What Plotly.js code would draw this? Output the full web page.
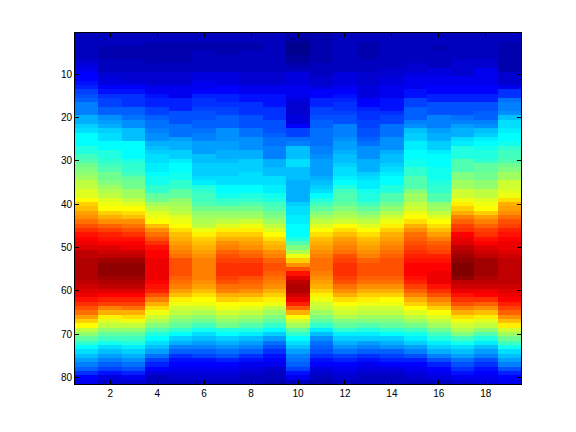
<!DOCTYPE html>
<html><head><meta charset="utf-8">
<script src="https://cdn.plot.ly/plotly-3.0.1.min.js"></script>
<style>html,body{margin:0;padding:0;background:#fff}#c{width:576px;height:432px}</style>
</head><body><div id="c"></div>
<script>
// Jet colormap level (0-63) per row (1-81) for each column (1-19).
const col01=[3,3,3,3,3,3,4,5,6,7, 7,8,9,11,12,13,15,15,15,18, 18,20,21,23,23,23,25,25,27,28, 30,31,32,33,35,35,37,37,39,42, 43,45,46,48,50,52,54,55,56,57, 59,59,60,60,60,60,60,59,58,57, 56,54,52,50,48,45,42,39,35,32, 29,26,23,21,19,17,15,13,10,7, 6];
const col02=[3,3,3,2,2,2,3,3,3,4, 5,5,7,8,10,11,11,13,13,16, 17,18,20,21,21,23,23,25,25,26, 27,28,30,30,31,33,34,35,37,38, 39,42,44,46,49,51,53,54,55,57, 58,59,61,62,62,62,61,60,59,57, 55,53,51,47,44,40,37,35,32,29, 27,24,21,19,17,15,13,11,8,5, 4];
const col03=[3,3,3,2,2,2,3,3,3,4, 4,5,7,8,10,10,10,13,13,14, 16,16,19,19,19,23,23,23,23,25, 26,26,27,29,30,30,33,33,35,37, 39,41,43,46,48,50,52,54,55,56, 58,59,61,62,62,62,61,60,59,57, 55,53,51,48,44,41,38,35,32,29, 27,25,22,20,18,16,14,12,9,6, 4];
const col04=[3,3,2,2,2,2,2,3,3,4, 4,4,6,6,8,9,9,11,11,13, 14,14,15,16,16,18,19,20,21,21, 22,22,23,24,24,26,26,29,30,33, 35,37,38,39,43,46,48,50,52,54, 55,55,56,56,56,56,56,55,54,53, 50,47,44,41,38,36,34,31,28,25, 23,21,19,17,14,11,9,7,5,3, 3];
const col05=[3,3,2,2,2,2,2,3,3,4, 4,4,6,6,6,9,9,9,12,12, 12,14,14,14,17,18,18,20,20,22, 23,23,24,24,26,26,29,29,32,33, 34,35,37,38,39,41,43,44,45,46, 47,48,50,50,50,50,49,48,47,45, 43,40,38,36,35,33,31,29,26,23, 20,18,15,13,10,8,7,6,5,4, 3];
const col06=[3,3,2,2,3,3,3,3,3,5, 5,6,6,7,9,10,10,11,12,12, 13,13,14,15,15,17,17,17,19,19, 20,20,20,21,22,25,26,27,27,28, 30,32,33,34,35,38,40,42,43,44, 45,46,47,47,47,47,47,46,45,43, 41,39,38,36,34,32,30,27,24,21, 19,17,15,13,11,8,7,6,5,4, 3];
const col07=[3,3,2,2,2,3,3,3,3,5, 5,5,7,7,9,9,10,11,11,13, 13,13,16,16,16,17,17,18,18,19, 20,20,20,21,21,23,23,24,26,27, 30,32,33,35,37,40,42,44,46,47, 49,50,51,52,52,52,51,50,48,47, 44,42,39,38,36,34,32,30,25,23, 20,18,16,14,12,9,7,6,5,4, 3];
const col08=[3,3,2,2,3,3,3,3,3,4, 4,4,6,6,8,8,10,10,10,12, 12,12,14,14,16,16,16,18,18,20, 20,20,21,21,21,23,23,25,26,28, 30,32,33,36,38,40,42,44,45,46, 48,49,51,52,52,52,50,49,48,46, 44,41,39,37,35,33,31,28,25,22, 19,17,15,13,10,8,6,5,4,3, 3];
const col09=[3,3,3,3,3,3,3,3,3,4, 4,4,6,6,8,8,8,10,10,10, 12,12,12,13,14,14,15,15,15,18, 18,19,19,21,21,22,22,24,25,27, 28,30,31,33,35,37,39,41,43,44, 46,47,49,50,50,49,48,47,46,44, 42,40,38,35,33,31,29,26,23,20, 17,14,12,10,8,7,6,4,3,3, 2];
const col10=[2,1,0,0,0,1,1,2,3,5, 5,5,6,6,6,5,4,4,4,5, 5,7,11,11,14,15,19,19,19,21, 21,19,19,19,18,18,18,18,18,20, 21,21,22,22,23,23,23,25,28,31, 34,38,42,46,50,54,57,59,60,60, 58,56,53,49,44,39,36,33,29,26, 23,21,19,17,15,14,13,11,8,6, 3];
const col11=[2,2,2,2,2,2,2,3,3,3, 4,4,5,7,7,9,9,11,11,12, 13,13,14,14,14,14,15,15,16,17, 17,17,17,18,19,20,21,23,25,27, 29,31,33,35,37,39,41,43,44,45, 46,47,48,48,48,47,46,45,44,42, 40,38,36,35,33,31,29,26,22,19, 16,14,13,12,10,8,7,5,4,3, 2];
const col12=[3,3,3,3,3,3,3,3,3,5, 5,5,6,7,8,9,10,10,11,12, 12,15,15,15,16,17,17,18,19,19, 20,21,21,22,23,25,27,28,28,29, 31,33,34,36,39,41,43,45,46,47, 48,50,51,52,52,52,51,50,48,46, 44,41,39,37,36,34,31,29,26,22, 20,18,16,14,11,9,7,6,5,4, 3];
const col13=[3,3,2,2,2,2,3,3,3,4, 4,4,5,5,5,7,7,9,10,10, 11,11,12,12,13,14,16,16,16,18, 18,18,20,21,22,22,24,25,25,27, 29,31,33,35,37,39,41,43,44,45, 46,47,49,50,50,50,49,48,46,44, 42,40,38,36,35,33,31,28,25,22, 20,17,15,13,10,8,6,5,4,3, 3];
const col14=[3,3,3,3,3,3,3,3,4,4, 5,5,6,6,6,8,8,8,10,11, 11,14,14,14,16,16,16,18,19,19, 20,21,22,23,23,25,25,28,28,30, 32,34,36,38,40,42,44,45,46,47, 48,49,50,50,50,50,49,48,46,44, 42,39,38,36,35,33,31,29,26,23, 20,18,16,13,11,9,7,5,4,3, 3];
const col15=[3,3,3,3,3,3,3,4,4,5, 6,6,6,8,8,11,11,13,13,13, 15,16,19,20,20,22,22,23,23,24, 24,26,26,28,28,28,31,33,33,35, 36,38,39,41,44,46,48,49,50,51, 52,53,54,55,55,55,54,53,51,49, 47,44,42,39,37,35,33,30,27,24, 22,20,17,15,12,9,7,6,5,4, 3];
const col16=[3,3,3,2,3,3,3,3,5,5, 6,6,7,7,9,9,12,12,12,15, 15,15,17,18,18,20,20,22,23,23, 23,24,24,24,25,26,26,28,28,32, 33,35,37,39,41,43,45,47,49,50, 51,53,54,55,55,56,56,56,54,52, 50,47,45,42,39,37,35,33,30,27, 25,22,20,18,15,12,9,7,6,5, 3];
const col17=[3,3,3,3,3,3,4,4,4,4, 6,6,7,7,9,9,12,12,12,14, 15,17,18,18,21,22,25,25,25,28, 28,28,31,31,33,33,36,36,38,40, 42,44,47,49,51,52,55,56,57,59, 60,61,62,63,63,63,62,59,58,56, 54,52,50,47,44,41,38,36,34,31, 27,24,21,19,17,14,12,10,8,6, 4];
const col18=[3,3,3,3,3,3,4,4,6,6, 6,6,7,7,9,9,12,12,13,13, 15,16,19,20,22,23,24,25,25,26, 29,29,30,30,32,32,35,35,37,38, 39,42,45,47,49,51,52,54,55,57, 58,59,61,61,61,61,60,59,58,56, 55,52,49,46,43,40,37,35,32,28, 25,22,19,17,15,12,10,8,7,6, 5];
const col19=[3,3,2,2,2,2,2,2,2,4, 4,4,6,10,10,14,15,15,16,19, 21,21,22,23,23,24,26,27,27,28, 30,31,33,33,36,36,37,38,41,44, 45,46,48,50,51,53,54,55,56,56, 57,58,59,59,59,59,59,59,58,57, 56,55,53,51,49,46,43,40,36,33, 30,27,24,21,19,17,15,12,9,7, 6];
const columns=[col01,col02,col03,col04,col05,col06,col07,col08,col09,col10,col11,col12,col13,col14,col15,col16,col17,col18,col19];
const xValues=[1,2,3,4,5,6,7,8,9,10,11,12,13,14,15,16,17,18,19];
const yValues=[];
for(let r=1;r<=81;r++)yValues.push(r);
const xTicks=[2,4,6,8,10,12,14,16,18];
const yTicks=[10,20,30,40,50,60,70,80];
const jet=[[0,'rgb(0,0,143)'],[7/63,'rgb(0,0,255)'],[23/63,'rgb(0,255,255)'],[39/63,'rgb(255,255,0)'],[55/63,'rgb(255,0,0)'],[1,'rgb(128,0,0)']];
const z=yValues.map((_,r)=>columns.map(c=>c[r]));
const axis={showgrid:false,zeroline:false,ticks:'inside',ticklen:4,tickwidth:1,tickcolor:'#000',showline:true,linecolor:'#000',linewidth:1,mirror:'ticks',tickfont:{family:'Liberation Sans, Arial, sans-serif',size:10,color:'#000'},tickmode:'array'};
Plotly.newPlot('c',[{type:'heatmap',x:xValues,y:yValues,z:z,zmin:0,zmax:63,colorscale:jet,showscale:false,zsmooth:false,hoverinfo:'skip'}],{
 width:576,height:432,paper_bgcolor:'#fff',plot_bgcolor:'#fff',showlegend:false,
 margin:{l:74.5,r:54.5,t:32.5,b:47.5,pad:0},
 xaxis:Object.assign({},axis,{range:[0.5,19.5],tickvals:xTicks,ticktext:xTicks.map(String)}),
 yaxis:Object.assign({},axis,{range:[81.5,0.5],tickvals:yTicks,ticktext:yTicks.map(String)})
},{staticPlot:true,displayModeBar:false});
</script></body></html>
